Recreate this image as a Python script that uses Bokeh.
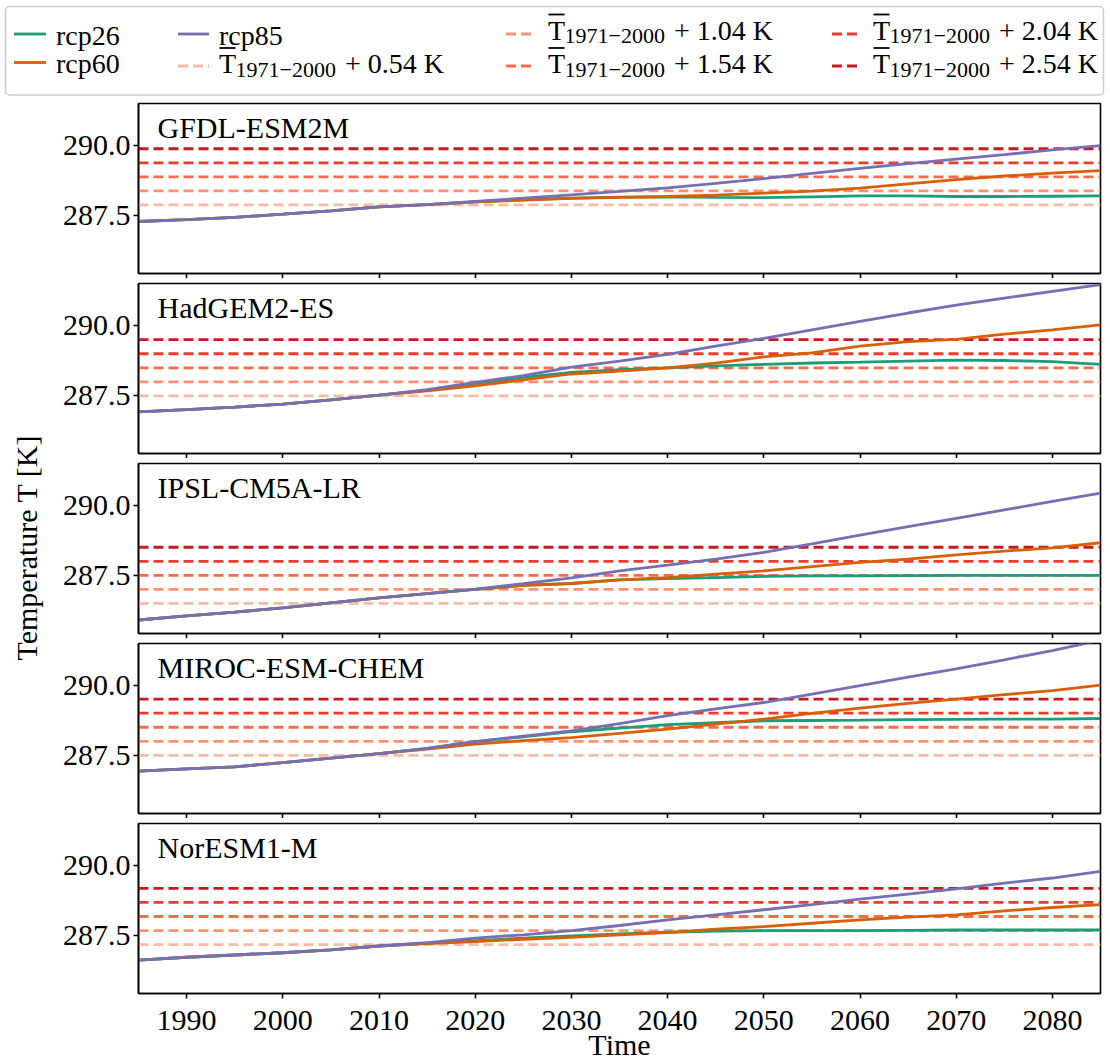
from bokeh.plotting import figure
from bokeh.models import Range1d, FixedTicker, PrintfTickFormatter, Label, Span, Div
from bokeh.layouts import column, row
from bokeh.embed import file_html
from bokeh.resources import INLINE

FONT = "Liberation Serif"

# ---------------- data ----------------
years = [1985, 1990, 1995, 2000, 2005, 2010, 2015, 2020, 2025, 2030, 2035,
         2040, 2045, 2050, 2055, 2060, 2065, 2070, 2075, 2080, 2085]

models = ["GFDL-ESM2M", "HadGEM2-ES", "IPSL-CM5A-LR", "MIROC-ESM-CHEM", "NorESM1-M"]
t_ref_1971_2000 = [287.35, 286.96, 285.98, 286.98, 286.65]
offsets_K = [0.54, 1.04, 1.54, 2.04, 2.54]
offset_labels = ["+ 0.54 K", "+ 1.04 K", "+ 1.54 K", "+ 2.04 K", "+ 2.54 K"]

gfdl_rcp26 = [287.30, 287.37, 287.45, 287.56, 287.68, 287.82, 287.90, 288.00, 288.07, 288.13, 288.17,
              288.18, 288.16, 288.15, 288.18, 288.21, 288.21, 288.19, 288.19, 288.20, 288.21]
gfdl_rcp60 = [287.30, 287.37, 287.45, 287.56, 287.68, 287.82, 287.90, 288.00, 288.06, 288.12, 288.16,
              288.19, 288.24, 288.31, 288.38, 288.49, 288.64, 288.79, 288.92, 289.02, 289.11]
gfdl_rcp85 = [287.30, 287.37, 287.45, 287.56, 287.68, 287.82, 287.90, 288.02, 288.13, 288.25, 288.37,
              288.50, 288.66, 288.83, 289.01, 289.19, 289.36, 289.52, 289.68, 289.85, 290.00]

hadgem_rcp26 = [286.93, 287.01, 287.10, 287.21, 287.36, 287.53, 287.70, 287.95, 288.16, 288.34, 288.43,
                288.50, 288.57, 288.62, 288.67, 288.70, 288.74, 288.77, 288.76, 288.72, 288.62]
hadgem_rcp60 = [286.93, 287.01, 287.10, 287.21, 287.36, 287.53, 287.68, 287.86, 288.07, 288.28, 288.38,
                288.50, 288.67, 288.89, 289.03, 289.27, 289.43, 289.51, 289.70, 289.85, 290.03]
hadgem_rcp85 = [286.93, 287.01, 287.10, 287.21, 287.36, 287.53, 287.72, 287.98, 288.22, 288.52, 288.74,
                288.98, 289.27, 289.55, 289.85, 290.15, 290.45, 290.73, 290.98, 291.22, 291.46]

ipsl_rcp26 = [285.93, 286.08, 286.21, 286.36, 286.54, 286.72, 286.87, 287.02, 287.16, 287.23, 287.36,
              287.40, 287.44, 287.48, 287.50, 287.50, 287.51, 287.52, 287.52, 287.52, 287.52]
ipsl_rcp60 = [285.93, 286.08, 286.21, 286.36, 286.54, 286.72, 286.87, 287.02, 287.16, 287.23, 287.36,
              287.44, 287.56, 287.68, 287.83, 287.98, 288.10, 288.25, 288.38, 288.50, 288.68]
ipsl_rcp85 = [285.93, 286.08, 286.21, 286.36, 286.54, 286.72, 286.87, 287.03, 287.22, 287.43, 287.68,
              287.88, 288.10, 288.34, 288.64, 288.95, 289.25, 289.55, 289.85, 290.15, 290.45]

miroc_rcp26 = [286.96, 287.04, 287.11, 287.26, 287.42, 287.58, 287.77, 288.01, 288.18, 288.36, 288.49,
               288.61, 288.68, 288.75, 288.76, 288.77, 288.79, 288.80, 288.81, 288.81, 288.83]
miroc_rcp60 = [286.96, 287.04, 287.11, 287.26, 287.42, 287.58, 287.74, 287.92, 288.04, 288.15, 288.30,
               288.45, 288.63, 288.81, 289.01, 289.20, 289.37, 289.52, 289.68, 289.82, 290.02]
miroc_rcp85 = [286.96, 287.04, 287.11, 287.26, 287.42, 287.58, 287.77, 288.01, 288.20, 288.39, 288.65,
               288.93, 289.17, 289.40, 289.70, 290.00, 290.30, 290.60, 290.92, 291.25, 291.62]

noresm_rcp26 = [286.64, 286.74, 286.82, 286.90, 287.00, 287.14, 287.24, 287.33, 287.42, 287.50, 287.57,
                287.63, 287.67, 287.69, 287.69, 287.69, 287.70, 287.71, 287.71, 287.71, 287.71]
noresm_rcp60 = [286.64, 286.74, 286.82, 286.90, 287.00, 287.14, 287.23, 287.30, 287.38, 287.45, 287.54,
                287.62, 287.74, 287.83, 287.95, 288.07, 288.17, 288.25, 288.39, 288.51, 288.61]
noresm_rcp85 = [286.64, 286.74, 286.82, 286.90, 287.00, 287.14, 287.26, 287.42, 287.54, 287.69, 287.87,
                288.07, 288.25, 288.43, 288.61, 288.81, 288.99, 289.17, 289.38, 289.56, 289.80]

series = {
    "GFDL-ESM2M": (gfdl_rcp26, gfdl_rcp60, gfdl_rcp85),
    "HadGEM2-ES": (hadgem_rcp26, hadgem_rcp60, hadgem_rcp85),
    "IPSL-CM5A-LR": (ipsl_rcp26, ipsl_rcp60, ipsl_rcp85),
    "MIROC-ESM-CHEM": (miroc_rcp26, miroc_rcp60, miroc_rcp85),
    "NorESM1-M": (noresm_rcp26, noresm_rcp60, noresm_rcp85),
}
scenario_names = ["rcp26", "rcp60", "rcp85"]
x_ticks = [1990, 2000, 2010, 2020, 2030, 2040, 2050, 2060, 2070, 2080]
y_ticks = [287.5, 290.0]

# ---------------- style ----------------
scen_colors = ["#1b9e77", "#d95f02", "#7570b3"]
off_colors = ["#fcbba1", "#fc9272", "#fb6a4a", "#ef3b2c", "#cb181d"]
X0, X1 = 1985, 2085
Y0, Y1 = 285.45, 291.5
TOTAL_W = 1110
YLAB_W = 48
LEFT = 90
RIGHT = 10
FRAME_W = TOTAL_W - YLAB_W - LEFT - RIGHT
FRAME_H = 170
LEG_H = 98
BOTTOM = 68
LW = 2.8
DASH = "10 5"
FS = "30px"

# ---------------- legend (html/svg block) ----------------
def svg_text(x, y, s, size):
    return (f'<text x="{x}" y="{y}" style="font-family:\'{FONT}\';font-size:{size}px;'
            f'fill:black">{s}</text>')

def svg_line(x0, x1, y, color, dash=None, w=LW):
    d = f' stroke-dasharray="{dash}"' if dash else ""
    return (f'<line x1="{x0}" y1="{y}" x2="{x1}" y2="{y}" stroke="{color}" '
            f'stroke-width="{w}"{d}/>')

parts = [f'<svg xmlns="http://www.w3.org/2000/svg" width="{TOTAL_W}" height="{LEG_H}" '
         f'style="display:block">',
         '<rect x="5.5" y="6.5" width="1098" height="88.5" rx="4" ry="4" '
         'fill="white" stroke="#cccccc" stroke-width="1.5"/>']
scen_pos = [(14, 46, 34, 56, 44.6), (14, 46, 62.5, 56, 73.2), (178, 209, 34, 219, 44.6)]
for (hx0, hx1, hy, tx, ty), name, col in zip(scen_pos, scenario_names, scen_colors):
    parts.append(svg_line(hx0, hx1, hy, col))
    parts.append(svg_text(tx, ty, name, 28))
thr_pos = [(178, 209, 66, 219, 73.0), (506, 533, 34, 548, 39.5), (506, 533, 66, 548, 73.0),
           (832, 859, 34, 873, 39.5), (832, 859, 66, 873, 73.0)]
for (hx0, hx1, hy, tx, ty), lab, col in zip(thr_pos, offset_labels, off_colors):
    parts.append(svg_line(hx0, hx1, hy, col, DASH))
    parts.append(svg_text(tx, ty, "T", 28))
    parts.append(svg_line(tx + 0.5, tx + 16.5, ty - 25, "black", None, 1.8))
    parts.append(svg_text(tx + 16.5, ty + 3.6, "1971\u22122000", 22))
    parts.append(svg_text(tx + 126, ty, lab, 28))
parts.append('</svg>')
legend_div = Div(text="".join(parts), width=TOTAL_W, height=LEG_H, margin=(0, 0, 0, 0))

# ---------------- panels ----------------
px_per_unit_y = FRAME_H / (Y1 - Y0)
px_per_unit_x = FRAME_W / (X1 - X0)

panels = []
for i, name in enumerate(models):
    last = (i == len(models) - 1)
    bottom_border = BOTTOM if last else 5
    p = figure(frame_width=FRAME_W, frame_height=FRAME_H,
               x_range=Range1d(X0, X1), y_range=Range1d(Y0, Y1),
               output_backend="svg", toolbar_location=None,
               min_border_left=LEFT, min_border_right=RIGHT, min_border_top=5,
               min_border_bottom=bottom_border)
    p.grid.visible = False
    p.outline_line_color = "black"
    p.outline_line_width = 1.6
    p.background_fill_color = "white"

    for ax in (p.xaxis[0], p.yaxis[0]):
        ax.axis_line_width = 1.6
        ax.major_tick_line_width = 1.6
        ax.major_tick_in = 0
        ax.major_tick_out = 5
        ax.minor_tick_line_color = None
        ax.major_label_text_font = FONT
        ax.major_label_text_font_size = FS
        ax.major_label_text_color = "black"
        ax.axis_line_color = "black"
        ax.major_tick_line_color = "black"

    p.xaxis.ticker = FixedTicker(ticks=x_ticks)
    p.yaxis.ticker = FixedTicker(ticks=y_ticks)
    p.yaxis.formatter = PrintfTickFormatter(format="%.1f")
    p.yaxis.major_label_standoff = 3
    if last:
        p.xaxis.major_label_standoff = 12
        p.xaxis.axis_label = "Time"
        p.xaxis.axis_label_text_font = FONT
        p.xaxis.axis_label_text_font_size = FS
        p.xaxis.axis_label_text_font_style = "normal"
        p.xaxis.axis_label_text_color = "black"
        p.xaxis.axis_label_standoff = -5
    else:
        p.xaxis.major_label_standoff = 0
        p.xaxis.major_label_text_font_size = "0px"
        p.xaxis.major_label_overrides = {t: "" for t in x_ticks}

    tref = t_ref_1971_2000[i]
    for off, col in zip(offsets_K, off_colors):
        p.add_layout(Span(location=tref + off, dimension="width", line_color=col,
                          line_width=LW, line_dash=DASH, level="underlay"))

    for ys, col in zip(series[name], scen_colors):
        p.line(years, ys, line_color=col, line_width=LW)

    p.add_layout(Label(x=X0 + 19 / px_per_unit_x, y=Y1 - 24 / px_per_unit_y, text=name,
                       text_font=FONT, text_font_size=FS, text_baseline="alphabetic",
                       text_align="left", text_color="black"))
    panels.append(p)

# ---------------- shared y label ----------------
PANELS_H = 4 * (5 + FRAME_H + 5) + (5 + FRAME_H + BOTTOM)
ylab_svg = (f'<svg xmlns="http://www.w3.org/2000/svg" width="{YLAB_W}" height="{PANELS_H}" '
            f'style="display:block">'
            f'<text transform="translate(37,{548 - LEG_H}) rotate(-90)" text-anchor="middle" '
            f'style="font-family:\'{FONT}\';font-size:30px;fill:black">Temperature T [K]</text></svg>')
ylab_div = Div(text=ylab_svg, width=YLAB_W, height=PANELS_H, margin=(0, 0, 0, 0))

layout = column(legend_div, row(ylab_div, column(*panels, spacing=0), spacing=0), spacing=0)
open("out.html", "w").write(file_html(layout, INLINE))
